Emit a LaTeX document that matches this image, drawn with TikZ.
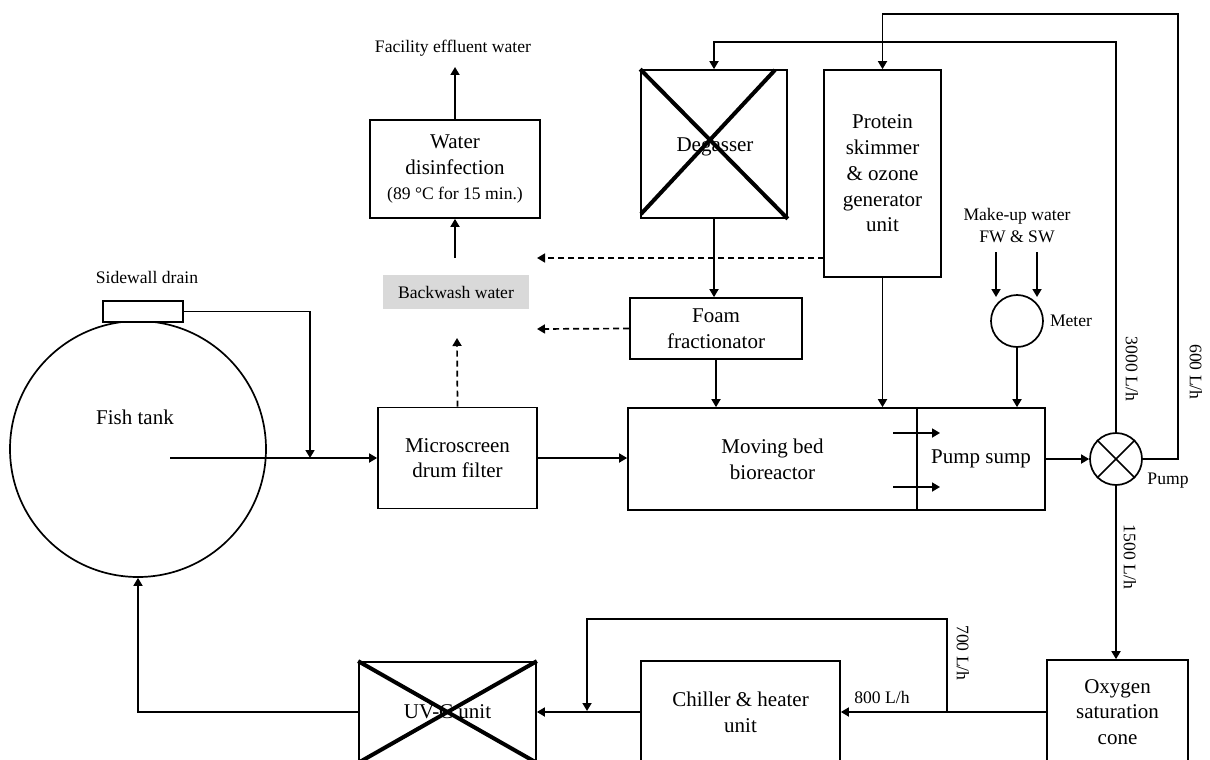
\documentclass[tikz,border=0pt]{standalone}
\usepackage{fontspec}
\setmainfont{Liberation Serif}
\usetikzlibrary{arrows.meta}
\newcommand\mainf{\fontsize{21}{25.7}\selectfont}
\newcommand\smallf{\fontsize{17.6}{22}\selectfont}
\begin{document}
\begin{tikzpicture}[x=1pt,y=-1pt,
  box/.style={draw, line width=1.7pt, inner sep=0pt, align=center, font=\mainf},
  lbl/.style={inner sep=0pt, font=\smallf, align=center},
  arr/.style={line width=1.7pt, -{Triangle[length=8pt,width=9pt]}},
  darr/.style={arr, dash pattern=on 6pt off 4pt},
  wire/.style={line width=1.7pt},
  cross/.style={line width=4pt}]
\useasboundingbox (0,0) rectangle (1210,760);
\clip (0,0) rectangle (1210,760);
\fill[white] (0,0) rectangle (1210,760);

% nodes
\node[draw, circle, line width=1.7pt, minimum size=256pt, inner sep=0pt] (fish) at (138,449) {};
\node[font=\mainf, inner sep=0pt] (fishlbl) at (135,417) {Fish tank};
\node[box, fill=white, minimum width=80pt, minimum height=21pt] (drain) at (143,311.5) {};
\node[lbl] (drainlbl) at (147,277) {Sidewall drain};

\node[box, minimum width=159pt, minimum height=101pt] (drum) at (457.5,458) {Microscreen\\drum filter};
\node[fill=black!15, inner sep=0pt, minimum width=146pt, minimum height=34pt, font=\smallf] (bw) at (456,292) {Backwash water};
\node[box, minimum width=170pt, minimum height=98pt] (dis) at (455,169) {Water\\disinfection\\{\smallf(89 °C for 15 min.)}};
\node[lbl] (effl) at (453,48) {Facility effluent water};

\node[box, minimum width=146pt, minimum height=148pt] (deg) at (714,144) {};
\node[font=\mainf, inner sep=0pt] (deglbl) at (715,147) {Degasser};
\node[box, minimum width=172pt, minimum height=61pt] (foam) at (716,328.5) {Foam\\fractionator};
\node[box, minimum width=117pt, minimum height=207pt] (skim) at (882.5,173.5) {Protein\\skimmer\\\& ozone\\generator\\unit};
\node[box, minimum width=289pt, minimum height=102pt] (mbbr) at (772.5,459) {Moving bed\\bioreactor};
\node[box, minimum width=128pt, minimum height=102pt] (sump) at (981,459) {Pump sump};

\node[lbl] (mkup) at (1017,226) {Make-up water\\FW \& SW};
\node[draw, circle, line width=1.7pt, minimum size=52pt, inner sep=0pt] (meter) at (1017,321) {};
\node[lbl] (meterlbl) at (1071,321) {Meter};
\node[draw, circle, line width=1.7pt, minimum size=52pt, inner sep=0pt] (pump) at (1116,459) {};
\node[lbl] (pumplbl) at (1168,481) {Pump};

\node[box, minimum width=141pt, minimum height=104pt] (oxy) at (1117.5,712) {Oxygen\\saturation\\cone};
\node[box, minimum width=199pt, minimum height=102pt] (chill) at (740.5,712) {Chiller \& heater\\unit};
\node[box, minimum width=177pt, minimum height=100pt] (uv) at (447.5,712) {UV-C unit};

\node[lbl, rotate=-90] (l3000) at (1132,369) {3000 L/h};
\node[lbl, rotate=-90] (l600) at (1196,372) {600 L/h};
\node[lbl, rotate=-90] (l1500) at (1130,557) {1500 L/h};
\node[lbl, rotate=-90] (l700) at (963,653) {700 L/h};
\node[lbl] (l800) at (882,697) {800 L/h};

% crosses
\coordinate (dgbl) at (641,214);
\coordinate (dgtr) at (775,70);
\draw[cross] (deg.north west) -- (deg.south east);
\draw[cross] (dgbl) -- (dgtr);
\draw[cross] (uv.north west) -- (uv.south east);
\draw[cross] (uv.south west) -- (uv.north east);
\draw[wire] (pump.north east) -- (pump.south west);
\draw[wire] (pump.north west) -- (pump.south east);

% coordinates
\coordinate (fc) at (170,458);
\coordinate (j1) at (310,458);
\coordinate (bwup) at (457,338);
\coordinate (bwtop) at (455,258);
\coordinate (efftip) at (455,67);
\coordinate (d1) at (824,258);
\coordinate (d1e) at (537,258);
\coordinate (d2e) at (537,329);
\coordinate (t1) at (1116,42);
\coordinate (t2) at (1178,14);
\coordinate (m1s) at (996,252);
\coordinate (m1e) at (996,297);
\coordinate (m2s) at (1037,252);
\coordinate (m2e) at (1037,297);
\coordinate (a1s) at (893,433);
\coordinate (a1e) at (940,433);
\coordinate (a2s) at (893,487);
\coordinate (a2e) at (940,487);
\coordinate (br) at (947,712);
\coordinate (br2) at (587,619);
\coordinate (br3) at (587,711);

% connectors
\draw[arr] (fc) -- (drum.west);
\draw[arr] (drain.east) -| (j1);
\draw[arr] (drum.east) -- (mbbr.west |- drum.east);
\draw[darr] (drum.north) -- (bwup);
\draw[arr] (bwtop) -- (dis.south);
\draw[arr] (dis.north) -- (efftip);
\draw[arr] (deg.south) -- (deg.south |- foam.north);
\draw[arr] (foam.south) -- (foam.south |- mbbr.north);
\draw[arr] (skim.south) -- (skim.south |- mbbr.north);
\draw[darr] (d1) -- (d1e);
\draw[darr] (foam.west) -- (d2e);
\draw[arr] (pump.north) -- (t1) -| (deg.north);
\draw[arr] (pump.east) -| (t2) -| (skim.north);
\draw[arr] (m1s) -- (m1e);
\draw[arr] (m2s) -- (m2e);
\draw[arr] (meter.south) -- (meter.south |- sump.north);
\draw[arr] (a1s) -- (a1e);
\draw[arr] (a2s) -- (a2e);
\draw[arr] (sump.east) -- (pump.west);
\draw[arr] (pump.south) -- (pump.south |- oxy.north);
\draw[arr] (oxy.west) -- (chill.east);
\draw[arr] (br) |- (br2) -- (br3);
\draw[arr] (chill.west) -- (uv.east);
\draw[arr] (uv.west) -| (fish.south);
\end{tikzpicture}
\end{document}
